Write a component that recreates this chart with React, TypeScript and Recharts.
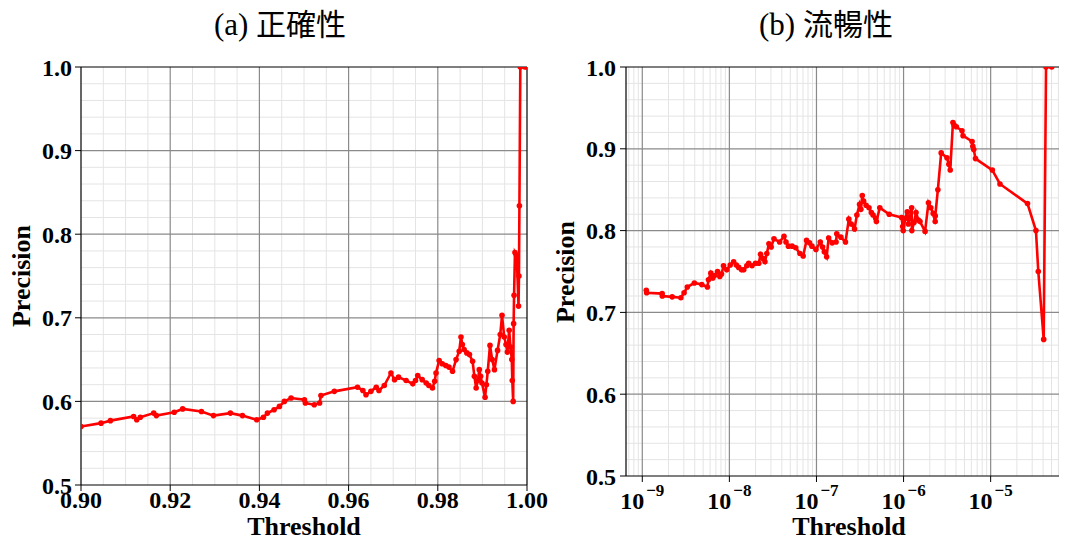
import React from 'react';
import { LineChart, Line, XAxis, YAxis, ReferenceLine } from 'recharts';

// ─── (a) 正確性: threshold vs precision ───
const accuracyThreshold = [
  0.9000, 0.9045, 0.9066, 0.9118, 0.9125, 0.9133, 0.9163, 0.9169, 0.9209, 0.9228,
  0.9270, 0.9297, 0.9335, 0.9362, 0.9394, 0.9409, 0.9418, 0.9433, 0.9445, 0.9456,
  0.9471, 0.9501, 0.9503, 0.9523, 0.9535, 0.9538, 0.9568, 0.9620, 0.9632, 0.9639,
  0.9650, 0.9662, 0.9668, 0.9680, 0.9695, 0.9703, 0.9712, 0.9729, 0.9744, 0.9750,
  0.9755, 0.9765, 0.9774, 0.9780, 0.9788, 0.9793, 0.9796, 0.9803, 0.9810, 0.9818,
  0.9825, 0.9833, 0.9841, 0.9848, 0.9852, 0.9855, 0.9859, 0.9865, 0.9871, 0.9878,
  0.9882, 0.9886, 0.9890, 0.9893, 0.9896, 0.9899, 0.9906, 0.9909, 0.9912, 0.9917,
  0.9922, 0.9927, 0.9934, 0.9940, 0.9944, 0.9949, 0.9953, 0.9956, 0.9960, 0.9963,
  0.9966, 0.9967, 0.9969, 0.9970, 0.9971, 0.9973, 0.9976, 0.9978, 0.9981, 0.9982,
  0.9983, 0.9985, 0.9995, 1.0000,
];
const accuracyPrecision = [
  0.570, 0.574, 0.577, 0.582, 0.578, 0.581, 0.586, 0.583, 0.587, 0.591,
  0.588, 0.583, 0.586, 0.583, 0.578, 0.581, 0.586, 0.590, 0.594, 0.600,
  0.604, 0.602, 0.598, 0.596, 0.598, 0.607, 0.612, 0.617, 0.613, 0.608,
  0.612, 0.617, 0.613, 0.619, 0.634, 0.626, 0.629, 0.625, 0.621, 0.625,
  0.631, 0.626, 0.622, 0.619, 0.616, 0.624, 0.634, 0.649, 0.645, 0.643,
  0.641, 0.636, 0.650, 0.660, 0.677, 0.668, 0.662, 0.658, 0.656, 0.648,
  0.630, 0.616, 0.625, 0.638, 0.630, 0.622, 0.605, 0.620, 0.636, 0.667,
  0.650, 0.638, 0.661, 0.680, 0.703, 0.677, 0.668, 0.659, 0.685, 0.665,
  0.650, 0.625, 0.600, 0.693, 0.727, 0.778, 0.775, 0.760, 0.714, 0.750,
  0.834, 1.000, 1.000, 1.000,
];

// ─── (b) 流暢性: log10(threshold) vs precision ───
const fluencyLogThreshold = [
  -8.954, -8.950, -8.772, -8.770, -8.657, -8.557, -8.520, -8.483, -8.402, -8.317,
  -8.252, -8.240, -8.213, -8.190, -8.170, -8.136, -8.110, -8.090, -8.067, -8.030,
  -7.990, -7.951, -7.920, -7.893, -7.860, -7.835, -7.800, -7.778, -7.740, -7.700,
  -7.662, -7.642, -7.615, -7.592, -7.570, -7.546, -7.520, -7.488, -7.423, -7.373,
  -7.350, -7.322, -7.280, -7.238, -7.190, -7.153, -7.114, -7.080, -7.052, -7.006,
  -6.956, -6.930, -6.910, -6.883, -6.860, -6.820, -6.775, -6.767, -6.720, -6.667,
  -6.628, -6.601, -6.563, -6.536, -6.505, -6.490, -6.474, -6.459, -6.430, -6.397,
  -6.370, -6.350, -6.320, -6.312, -6.273, -6.165, -6.023, -6.010, -6.004, -5.980,
  -5.957, -5.945, -5.930, -5.907, -5.905, -5.880, -5.857, -5.830, -5.811, -5.753,
  -5.714, -5.687, -5.660, -5.637, -5.636, -5.606, -5.568, -5.502, -5.480, -5.464,
  -5.433, -5.420, -5.394, -5.329, -5.317, -5.213, -5.205, -5.194, -5.174, -4.981,
  -4.893, -4.577, -4.480, -4.453, -4.391, -4.364, -4.299,
];
const fluencyPrecision = [
  0.727, 0.724, 0.723, 0.720, 0.719, 0.718, 0.724, 0.731, 0.736, 0.734,
  0.731, 0.740, 0.748, 0.742, 0.745, 0.750, 0.744, 0.747, 0.757, 0.752,
  0.758, 0.762, 0.758, 0.755, 0.752, 0.752, 0.757, 0.760, 0.757, 0.760,
  0.760, 0.771, 0.766, 0.762, 0.772, 0.784, 0.780, 0.790, 0.786, 0.793,
  0.786, 0.781, 0.781, 0.779, 0.772, 0.769, 0.788, 0.785, 0.781, 0.777,
  0.786, 0.780, 0.774, 0.768, 0.791, 0.785, 0.786, 0.796, 0.792, 0.786,
  0.814, 0.808, 0.802, 0.819, 0.832, 0.826, 0.843, 0.836, 0.831, 0.828,
  0.822, 0.819, 0.815, 0.811, 0.828, 0.820, 0.816, 0.805, 0.800, 0.815,
  0.823, 0.808, 0.815, 0.828, 0.800, 0.810, 0.822, 0.813, 0.811, 0.799,
  0.834, 0.828, 0.821, 0.811, 0.818, 0.850, 0.895, 0.889, 0.881, 0.874,
  0.932, 0.929, 0.927, 0.922, 0.916, 0.909, 0.903, 0.899, 0.888, 0.874,
  0.857, 0.833, 0.800, 0.750, 0.667, 1.000, 1.000,
];

// ─── Axis ticks ───
const precisionTicks = [0.5, 0.6, 0.7, 0.8, 0.9, 1.0];
const precisionMinorTicks = [0.52, 0.54, 0.56, 0.58, 0.62, 0.64, 0.66, 0.68, 0.72, 0.74, 0.76, 0.78, 0.82, 0.84, 0.86, 0.88, 0.92, 0.94, 0.96, 0.98];
const accuracyTicks = [0.9, 0.92, 0.94, 0.96, 0.98, 1.0];
const accuracyMinorTicks = [0.905, 0.91, 0.915, 0.925, 0.93, 0.935, 0.945, 0.95, 0.955, 0.965, 0.97, 0.975, 0.985, 0.99, 0.995];
const fluencyTicks = [-9, -8, -7, -6, -5];
const fluencyDomain = [-9.187, -4.066];
const fluencyMinorTicks = [-10, -9, -8, -7, -6, -5]
  .flatMap(d => [2, 3, 4, 5, 6, 7, 8, 9].map(k => d + Math.log10(k)))
  .filter(v => v > fluencyDomain[0] && v < fluencyDomain[1]);

const accuracyData = accuracyThreshold.map((t, i) => ({ t, p: accuracyPrecision[i] }));
const fluencyData = fluencyLogThreshold.map((t, i) => ({ t, p: fluencyPrecision[i] }));

const SERIF = '"Liberation Serif", "Times New Roman", serif';
const tickStyle = { fontFamily: SERIF, fontWeight: 700, fontSize: 24, fill: '#000' };
const MAJOR = '#8a8a8a';
const MINOR = '#e4e4e4';
const RED = '#ff0000';

const NoTick = () => <g />;

const YLabel = ({ viewBox, cx, cy }: any) => (
  <text
    x={viewBox.x + cx}
    y={cy}
    transform={`rotate(-90, ${viewBox.x + cx}, ${cy})`}
    textAnchor="middle"
    dominantBaseline="central"
    style={{ fontFamily: SERIF, fontWeight: 700, fontSize: 26, fill: '#000' }}
  >
    Precision
  </text>
);

const PowTick = ({ x, y, payload }: any) => (
  <text x={x} y={y + 25} textAnchor="middle" style={tickStyle}>
    <tspan>10</tspan>
    <tspan dx={2} dy={-13} fontSize={17}>{'\u2212' + String(-payload.value)}</tspan>
  </text>
);

const xLabel = {
  value: 'Threshold',
  position: 'insideBottom' as const,
  offset: 8,
  style: { fontFamily: SERIF, fontWeight: 700, fontSize: 26, fill: '#000' },
};

const Title = ({ left, letter, text }: { left: number; letter: string; text: string }) => (
  <div
    style={{
      position: 'absolute', left, top: 2, width: 300, textAlign: 'center',
      fontFamily: '"Liberation Serif", "Noto Sans CJK JP", serif', fontSize: 31, lineHeight: '40px',
    }}
  >
    {letter} <span style={{ fontFamily: '"Noto Sans CJK JP", sans-serif', fontSize: 30 }}>{text}</span>
  </div>
);

export default function App() {
  return (
    <div style={{ position: 'relative', width: 1067, height: 543, overflow: 'hidden', margin: -8, background: '#fff' }}>
      <Title left={130} letter="(a)" text="正確性" />
      <Title left={676} letter="(b)" text="流暢性" />

      {/* (a) accuracy */}
      <div style={{ position: 'absolute', left: 0, top: 0 }}>
        <LineChart width={560} height={543} data={accuracyData} margin={{ top: 67, right: 33, bottom: 0, left: 0 }}>
          <XAxis xAxisId="minor" dataKey="t" type="number" domain={[0.9, 1.0]} ticks={accuracyMinorTicks} interval={0}
            height={0} axisLine={false} tick={NoTick} tickSize={3} tickLine={{ stroke: '#000' }} allowDataOverflow />
          <XAxis dataKey="t" type="number" domain={[0.9, 1.0]} ticks={accuracyTicks} interval={0} height={58}
            tickFormatter={(v: number) => v.toFixed(2)} tick={tickStyle} tickSize={6} tickMargin={0}
            axisLine={{ stroke: '#000', strokeWidth: 1.2 }} tickLine={{ stroke: '#000' }} label={xLabel} allowDataOverflow />
          <YAxis yAxisId="minor" type="number" domain={[0.5, 1.0]} ticks={precisionMinorTicks} interval={0}
            width={0} axisLine={false} tick={NoTick} tickSize={3} tickLine={{ stroke: '#000' }} allowDataOverflow />
          <YAxis type="number" domain={[0.5, 1.0]} ticks={precisionTicks} interval={0} width={81}
            tickFormatter={(v: number) => v.toFixed(1)} tick={tickStyle} tickSize={6} tickMargin={3}
            axisLine={{ stroke: '#000', strokeWidth: 1.2 }} tickLine={{ stroke: '#000' }}
            label={<YLabel cx={21} cy={276} />} allowDataOverflow />
          {accuracyMinorTicks.map(v => <ReferenceLine key={'mx' + v} x={v} stroke={MINOR} strokeWidth={1} />)}
          {precisionMinorTicks.map(v => <ReferenceLine key={'my' + v} y={v} stroke={MINOR} strokeWidth={1} />)}
          {accuracyTicks.slice(1, -1).map(v => <ReferenceLine key={'x' + v} x={v} stroke={MAJOR} strokeWidth={1.2} />)}
          {precisionTicks.slice(1, -1).map(v => <ReferenceLine key={'y' + v} y={v} stroke={MAJOR} strokeWidth={1.2} />)}
          <ReferenceLine y={1.0} stroke="#000" strokeWidth={1.2} />
          <ReferenceLine x={1.0} stroke="#000" strokeWidth={1.2} />
          <Line dataKey="p" stroke={RED} strokeWidth={2.6} isAnimationActive={false}
            dot={{ r: 2.8, fill: RED, stroke: RED, strokeWidth: 0 }} />
        </LineChart>
      </div>

      {/* (b) fluency */}
      <div style={{ position: 'absolute', left: 540, top: 0 }}>
        <LineChart width={540} height={543} data={fluencyData} margin={{ top: 67, right: 8, bottom: 0, left: 0 }}>
          <XAxis xAxisId="minor" dataKey="t" type="number" domain={fluencyDomain} ticks={fluencyMinorTicks} interval={0}
            height={0} axisLine={false} tick={NoTick} tickSize={3} tickLine={{ stroke: '#000' }} allowDataOverflow />
          <XAxis dataKey="t" type="number" domain={fluencyDomain} ticks={fluencyTicks} interval={0} height={67}
            tick={<PowTick />} tickSize={6} tickMargin={2}
            axisLine={{ stroke: '#000', strokeWidth: 1.2 }} tickLine={{ stroke: '#000' }} label={xLabel} allowDataOverflow />
          <YAxis yAxisId="minor" type="number" domain={[0.5, 1.0]} ticks={precisionMinorTicks} interval={0}
            width={0} axisLine={false} tick={NoTick} tickSize={3} tickLine={{ stroke: '#000' }} allowDataOverflow />
          <YAxis type="number" domain={[0.5, 1.0]} ticks={precisionTicks} interval={0} width={86}
            tickFormatter={(v: number) => v.toFixed(1)} tick={tickStyle} tickSize={6} tickMargin={4}
            axisLine={{ stroke: '#000', strokeWidth: 1.2 }} tickLine={{ stroke: '#000' }}
            label={<YLabel cx={25} cy={272} />} allowDataOverflow />
          {fluencyMinorTicks.map(v => <ReferenceLine key={'mx' + v} x={v} stroke={MINOR} strokeWidth={1} />)}
          {precisionMinorTicks.map(v => <ReferenceLine key={'my' + v} y={v} stroke={MINOR} strokeWidth={1} />)}
          {fluencyTicks.map(v => <ReferenceLine key={'x' + v} x={v} stroke={MAJOR} strokeWidth={1.2} />)}
          {precisionTicks.slice(1, -1).map(v => <ReferenceLine key={'y' + v} y={v} stroke={MAJOR} strokeWidth={1.2} />)}
          <ReferenceLine y={1.0} stroke="#000" strokeWidth={1.2} />
          <Line dataKey="p" stroke={RED} strokeWidth={2.6} isAnimationActive={false}
            dot={{ r: 2.8, fill: RED, stroke: RED, strokeWidth: 0 }} />
        </LineChart>
      </div>
    </div>
  );
}
